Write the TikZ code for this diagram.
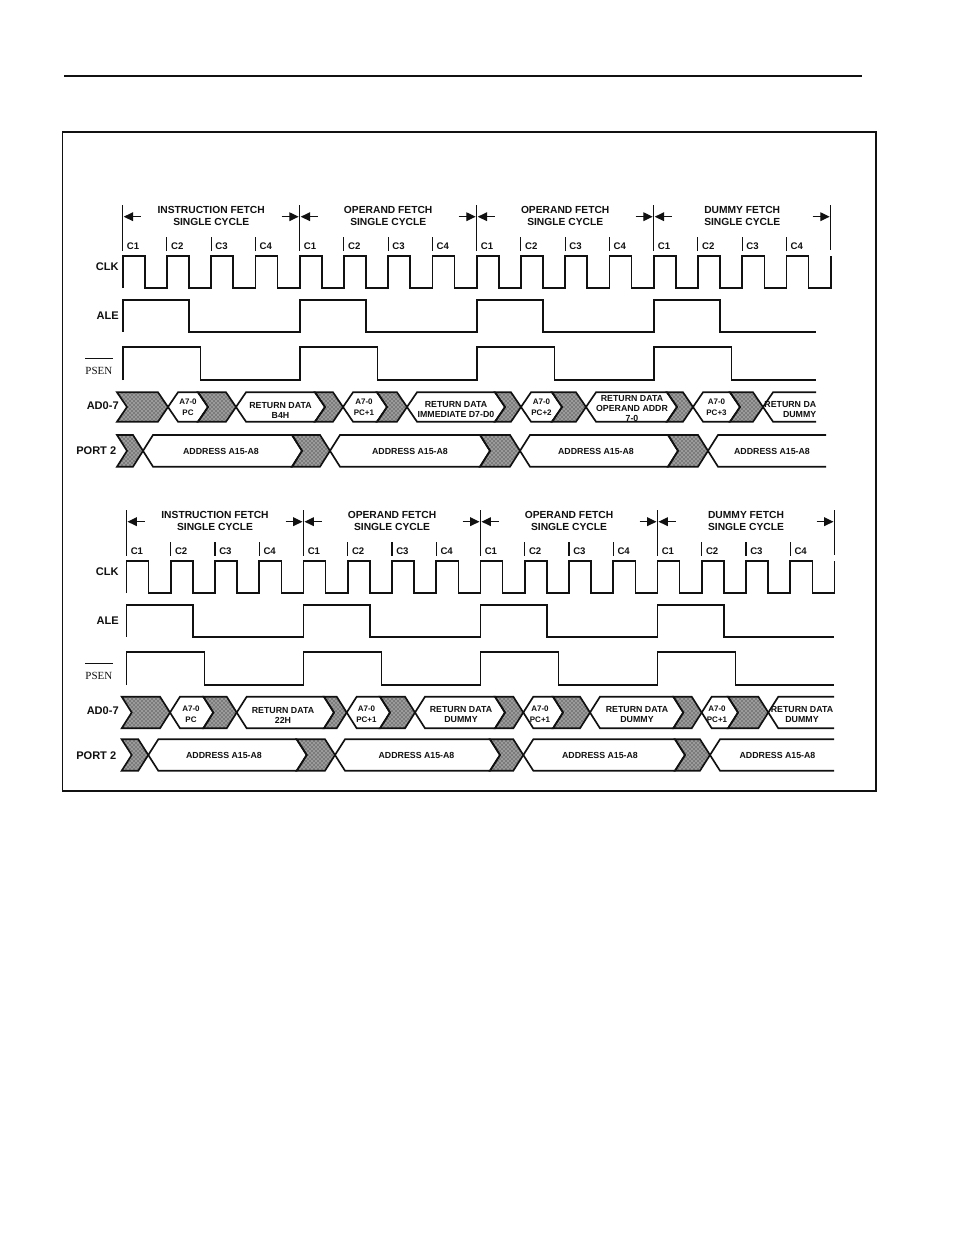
\documentclass[tikz,border=0pt]{standalone}
\usepackage{fontspec}
\setmainfont{Liberation Sans}
\newfontfamily\serifA{Liberation Serif}
\usepackage{tikz}
\usetikzlibrary{calc,arrows.meta,patterns}
\definecolor{ink}{HTML}{111111}
\definecolor{shade}{HTML}{7A7A7A}
\tikzset{
  wave/.style={draw=ink, line width=1.25pt, line join=miter},
  frm/.style={draw=ink, line width=0.8pt},
  tickln/.style={draw=ink, line width=0.8pt},
  arr/.style={draw=ink, line width=0.9pt, -{Triangle[length=7pt,width=6.5pt]}},
  hatch/.style={draw=ink, line width=1.25pt, line join=miter, preaction={fill=shade!75}, pattern=crosshatch dots, pattern color=ink},
  bus/.style={draw=ink, line width=1.25pt, line join=miter},
  sig/.style={text=ink, font=\bfseries\fontsize{8.3}{10}\selectfont, inner sep=0pt, anchor=east},
  cyc/.style={text=ink, font=\bfseries\fontsize{7.7}{9.2}\selectfont, align=center, inner sep=0pt},
  clab/.style={text=ink, font=\bfseries\fontsize{7.2}{8}\selectfont, inner sep=0pt, anchor=west},
  dat/.style={text=ink, font=\bfseries\fontsize{6.6}{7.5}\selectfont, align=center, inner sep=0pt},
  adr/.style={text=ink, font=\bfseries\fontsize{6}{7.9}\selectfont, align=center, inner sep=0pt},
}

\begin{document}
\begin{tikzpicture}[x=0.75pt, y=-0.75pt]
  \useasboundingbox[fill=white] (0,0) rectangle (954,1235);
  \def\per{44.25}
  \def\dd{10}
  % page rule and frame
  \draw[frm] (64,76) -- (862,76);
  \draw[frm] (62.5,132) rectangle (876,791);
  % clock, strobes, cycle marks; #1 start, #2 end of strobes, #3 prefix
  \def\cyclegrid#1#2#3{%
    \foreach \k/\cyctxt in {0/INSTRUCTION FETCH,1/OPERAND FETCH,2/OPERAND FETCH,3/DUMMY FETCH}{
      \node[cyc] (#3cyc\k) at ({#1+(4*\k+2)*\per},216) {\cyctxt\\SINGLE CYCLE};
      \draw[arr] ({#1+4*\k*\per+18},216.7) -- ({#1+4*\k*\per+1},216.7);
      \draw[arr] ({#1+(4*\k+4)*\per-18},216.7) -- ({#1+(4*\k+4)*\per-1},216.7);
    }
    \foreach \k in {0,...,4}
      \draw[tickln] ({#1+4*\k*\per},205) -- ({#1+4*\k*\per},250);
    \foreach \k in {0,...,3}{
      \foreach \c in {1,...,4}{
        \pgfmathsetmacro\xc{#1+(4*\k+\c-1)*\per}
        \draw[tickln] (\xc,237) -- (\xc,251);
        \node[clab] (#3c\k\c) at (\xc+4,246.5) {C\c};
      }
    }
    \draw[wave] (#1,288) \foreach \i in {0,...,15}{
        -- ({#1+\i*\per},255.7) -- ({#1+(\i+0.5)*\per},255.7)
        -- ({#1+(\i+0.5)*\per},288) -- ({#1+(\i+1)*\per},288)}
      -- ({#1+16*\per},255.7);
    \draw[wave] (#1,331.7) \foreach \k in {0,...,3}{
        -- ({#1+4*\k*\per},331.7) -- ({#1+4*\k*\per},300)
        -- ({#1+(4*\k+1.5)*\per},300) -- ({#1+(4*\k+1.5)*\per},331.7)}
      -- (#2,331.7);
    \draw[wave] (#1,380) \foreach \k in {0,...,3}{
        -- ({#1+4*\k*\per},380) -- ({#1+4*\k*\per},346.7)
        -- ({#1+(4*\k+1.76)*\per},346.7) -- ({#1+(4*\k+1.76)*\per},380)}
      -- (#2,380);
    \node[sig] (#3clk) at (119,267) {CLK};
    \node[sig] (#3ale) at (119,316) {ALE};
    \node[sig, font=\serifA\fontsize{8.2}{9}\selectfont] (#3psen) at (112.5,371) {PSEN};
    \draw[tickln, line width=0.6pt] ([yshift=6.5pt]#3psen.north west) -- ([yshift=6.5pt]#3psen.north east);
    \node[sig] (#3ad) at (119,406) {AD0-7};
    \node[sig] (#3port) at (116.5,451) {PORT 2};
  }
  % bus pieces: hatched (left, point), data (point, left of next), open end
  \def\hatchseg#1#2#3#4{%
    \path[hatch] (#1,#3) -- ({#2-\dd},#3) -- (#2,{(#3+#4)/2}) -- ({#2-\dd},#4)
      -- (#1,#4) -- ({#1+\dd},{(#3+#4)/2}) -- cycle;}
  \def\dataseg#1#2#3#4{%
    \path[bus] (#1,{(#3+#4)/2}) -- ({#1+\dd},#3) -- (#2,#3) -- ({#2+\dd},{(#3+#4)/2})
      -- (#2,#4) -- ({#1+\dd},#4) -- cycle;}
  \def\openseg#1#2#3#4{%
    \path[bus] (#2,#3) -- ({#1+\dd},#3) -- (#1,{(#3+#4)/2}) -- ({#1+\dd},#4) -- (#2,#4);}

  % upper diagram
  \cyclegrid{122.7}{816}{t}
  \foreach \l/\p in {117/168,198/236,315/343,377/407,495/521,552/586,667/693,730/763}
    {\hatchseg{\l}{\p}{392.3}{421.7}}
  \foreach \p/\l in {168/198,236/315,343/377,407/495,521/552,586/667,693/730}
    {\dataseg{\p}{\l}{392.3}{421.7}}
  \openseg{763}{816}{392.3}{421.7}
  \node[adr] (tpc) at (188,407) {A7-0\\PC};
  \node[dat] (tb4h) at (280.5,410) {RETURN DATA\\B4H};
  \node[adr] (tpc1) at (364,407) {A7-0\\PC+1};
  \node[dat] (timm) at (456,410) {RETURN DATA\\IMMEDIATE D7-D0};
  \node[adr] (tpc2) at (541.5,407) {A7-0\\PC+2};
  \node[dat] (topa) at (632,408.5) {RETURN DATA\\OPERAND ADDR\\7-0};
  \node[adr] (tpc3) at (716.5,407) {A7-0\\PC+3};
  \node[dat, anchor=east, align=right] (tdum) at (816.5,410) {RETURN DA\\DUMMY};
  \foreach \l/\p in {117/143,292/330,480/520,668/708}
    {\hatchseg{\l}{\p}{435}{466.7}}
  \foreach \p/\l in {143/292,330/480,520/668}
    {\dataseg{\p}{\l}{435}{466.7}}
  \openseg{708}{826}{435}{466.7}
  \node[dat] (tadr1) at (221,451) {ADDRESS A15-A8};
  \node[dat] (tadr2) at (410,451) {ADDRESS A15-A8};
  \node[dat] (tadr3) at (596,451) {ADDRESS A15-A8};
  \node[dat] (tadr4) at (772,451) {ADDRESS A15-A8};

  % lower diagram
  \begin{scope}[shift={(0,305)}]
    \cyclegrid{126.5}{834}{b}
  \end{scope}
  \foreach \l/\p in {121.7/170,203.3/236.7,324/346.7,380/415,495/523.3,553/590,673.3/701.7,728/768.3}
    {\hatchseg{\l}{\p}{696.7}{728.3}}
  \foreach \p/\l in {170/203.3,236.7/324,346.7/380,415/495,523.3/553,590/673.3,701.7/728}
    {\dataseg{\p}{\l}{696.7}{728.3}}
  \openseg{768.3}{834}{696.7}{728.3}
  \node[adr] (bpc) at (191,714) {A7-0\\PC};
  \node[dat] (b22h) at (283,715) {RETURN DATA\\22H};
  \node[adr] (bpc1) at (366.5,714) {A7-0\\PC+1};
  \node[dat] (bdum1) at (461,715) {RETURN DATA\\DUMMY};
  \node[adr] (bpc2) at (540,714) {A7-0\\PC+1};
  \node[dat] (bdum2) at (637,715) {RETURN DATA\\DUMMY};
  \node[adr] (bpc3) at (717,714) {A7-0\\PC+1};
  \node[dat] (bdum3) at (802,715) {RETURN DATA\\DUMMY};
  \foreach \l/\p in {121.7/148.3,296.7/335,490/523.3,675/710}
    {\hatchseg{\l}{\p}{739.3}{770.7}}
  \foreach \p/\l in {148.3/296.7,335/490,523.3/675}
    {\dataseg{\p}{\l}{739.3}{770.7}}
  \openseg{710}{834}{739.3}{770.7}
  \node[dat] (badr1) at (224,755) {ADDRESS A15-A8};
  \node[dat] (badr2) at (416.5,755) {ADDRESS A15-A8};
  \node[dat] (badr3) at (600,755) {ADDRESS A15-A8};
  \node[dat] (badr4) at (777.5,755) {ADDRESS A15-A8};
\end{tikzpicture}
\end{document}
